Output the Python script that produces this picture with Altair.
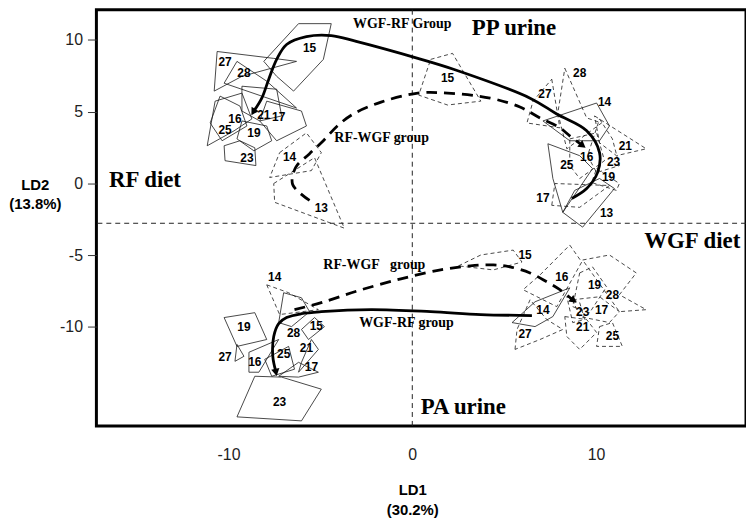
import altair as alt
import pandas as pd

X_DOMAIN = [-17.19, 18.16]
Y_DOMAIN = [-16.89, 12.11]
X_TICKS = [-10, 0, 10]
Y_TICKS = [-10, -5, 0, 5, 10]
ZERO_X = 0
DIET_LINE_Y = -2.77

# ---- PP urine, RF diet cluster ----
PP_RF_SOLID = {
    "15": [(-8.08, 8.51), (-6.19, 11.14), (-4.41, 11.14), (-4.84, 8.65), (-6.46, 6.44), (-7.38, 7.47)],
    "27": [(-10.62, 9.20), (-7.54, 8.72), (-6.30, 8.51), (-9.27, 7.47), (-10.78, 6.44)],
    "28": [(-9.54, 8.51), (-7.92, 7.13), (-6.30, 5.26), (-8.19, 6.09), (-10.24, 6.99)],
    "16": [(-10.73, 5.74), (-9.27, 6.30), (-8.73, 4.50), (-9.70, 3.67), (-11.16, 2.63)],
    "25": [(-10.46, 6.09), (-9.38, 5.40), (-9.00, 4.01), (-10.35, 2.98), (-11.00, 4.22)],
    "21": [(-9.27, 6.78), (-7.38, 6.57), (-7.11, 4.71), (-8.30, 4.36), (-9.27, 5.05)],
    "17": [(-7.92, 5.74), (-6.03, 5.05), (-5.76, 4.01), (-7.38, 2.98), (-8.30, 4.36)],
    "19": [(-9.27, 4.36), (-7.92, 4.01), (-7.65, 2.98), (-8.62, 2.28), (-9.54, 3.11)],
    "23": [(-10.24, 2.63), (-9.38, 2.98), (-8.57, 2.49), (-8.51, 1.25), (-10.19, 1.59)],
}
PP_RF_DASHED = {
    "14": [(-7.22, 2.15), (-5.76, 3.53), (-4.95, 2.15), (-5.49, 0.90), (-7.76, 0.42)],
    "13": [(-7.54, 0.00), (-5.32, 1.80), (-3.70, -3.11), (-7.49, -1.31)],
}
PP_RF_LABELS = {
    "15": (-5.59, 9.41), "27": (-10.19, 8.44), "28": (-9.16, 7.68), "16": (-9.65, 4.50),
    "21": (-8.08, 4.78), "17": (-7.27, 4.64), "25": (-10.19, 3.74), "19": (-8.62, 3.53),
    "23": (-9.00, 1.80), "14": (-6.68, 1.87), "13": (-4.95, -1.73),
}

# ---- PP urine, WGF diet cluster ----
PP_WGF_SOLID = {
    "14": [(7.11, 4.36), (10.03, 5.61), (10.73, 4.01), (10.19, 2.98), (8.57, 2.98)],
    "25": [(7.38, 2.77), (9.11, 1.94), (9.81, 1.04), (8.19, -2.01), (7.65, 0.35)],
    "13": [(8.19, -2.01), (9.27, -3.04), (11.00, -0.35), (10.19, 0.35), (8.84, -0.48)],
}
PP_WGF_DASHED = {
    "28": [(8.30, 8.03), (9.49, 4.57), (10.30, 4.22), (8.41, 2.42), (7.92, 4.91)],
    "27": [(7.59, 7.27), (8.03, 3.88), (6.24, 4.22), (6.57, 5.74)],
    "21": [(9.92, 4.71), (12.73, 2.42), (11.11, 1.94), (10.19, 2.84)],
    "23": [(10.19, 4.50), (10.89, 3.11), (11.27, 1.25), (10.03, 0.76), (9.54, 1.94)],
    "19": [(10.03, 1.04), (11.27, 0.00), (11.11, -0.48), (9.76, 0.07)],
    "16": [(8.57, 3.11), (10.03, 3.53), (10.46, 1.59), (9.11, 0.35), (8.57, 1.25)],
    "17": [(7.59, -1.52), (7.76, 0.00), (10.73, -0.14), (9.11, -1.66)],
    "15": [(1.00, 8.65), (2.19, 9.07), (3.73, 5.74), (1.92, 5.47), (0.35, 6.16)],
}
PP_WGF_LABELS = {
    "28": (9.11, 7.68), "27": (7.22, 6.23), "14": (10.46, 5.67), "21": (11.59, 2.63),
    "16": (9.49, 1.87), "23": (10.95, 1.52), "25": (8.41, 1.31), "19": (10.68, 0.48),
    "17": (7.11, -1.04), "13": (10.57, -2.08), "15": (1.92, 7.34),
}

# ---- PA urine, RF diet cluster ----
PA_RF_SOLID = {
    "19": [(-10.24, -9.34), (-8.57, -9.00), (-7.92, -10.87), (-9.54, -11.35)],
    "27": [(-9.54, -11.21), (-9.16, -12.04), (-9.65, -12.39)],
    "28": [(-7.00, -7.61), (-6.03, -7.96), (-5.59, -8.93), (-6.57, -9.97), (-7.27, -9.69)],
    "15": [(-5.65, -10.87), (-4.78, -9.97), (-5.32, -9.34), (-6.03, -10.17)],
    "16": [(-8.89, -11.76), (-7.27, -10.87), (-8.35, -13.15), (-8.89, -13.15)],
    "25": [(-8.03, -12.25), (-6.73, -11.35), (-6.41, -12.94), (-7.65, -13.43)],
    "21": [(-6.03, -12.46), (-5.49, -10.87), (-5.11, -11.56), (-6.19, -13.15)],
    "17": [(-7.27, -13.43), (-6.19, -12.46), (-5.11, -13.15), (-6.19, -13.49)],
    "23": [(-8.57, -13.43), (-7.11, -13.49), (-4.95, -14.33), (-6.03, -16.54), (-9.54, -16.26)],
}
PA_RF_DASHED = {
    "14": [(-7.92, -7.06), (-6.73, -7.61), (-5.11, -8.79), (-7.22, -9.13)],
}
PA_RF_LABELS = {
    "14": (-7.49, -6.51), "19": (-9.16, -10.03), "28": (-6.46, -10.45), "15": (-5.22, -9.90),
    "27": (-10.19, -12.11), "16": (-8.57, -12.46), "25": (-7.00, -11.90), "21": (-5.76, -11.49),
    "17": (-5.49, -12.80), "23": (-7.22, -15.22),
}

# ---- PA urine, WGF diet cluster ----
PA_WGF_SOLID = {
    "14": [(5.43, -9.69), (6.68, -8.24), (8.57, -7.27), (7.65, -9.27), (6.68, -9.97)],
}
PA_WGF_DASHED = {
    "15": [(2.51, -5.74), (3.73, -4.98), (5.49, -4.64), (5.97, -5.47), (4.41, -6.02)],
    "16": [(8.57, -4.29), (9.22, -5.47), (7.86, -8.58), (6.03, -7.40), (6.95, -6.37)],
    "19": [(9.11, -6.23), (9.81, -5.81), (10.57, -7.20), (9.65, -9.00), (8.73, -8.58)],
    "28": [(9.27, -5.33), (10.73, -4.98), (12.19, -6.23), (11.27, -7.75), (12.73, -8.79), (11.27, -8.93)],
    "17": [(8.73, -8.10), (10.19, -7.89), (11.27, -8.93), (10.73, -9.69), (9.11, -9.27)],
    "23": [(8.41, -7.89), (9.11, -8.30), (9.38, -9.48), (8.73, -9.69)],
    "21": [(8.30, -9.27), (9.49, -9.48), (10.03, -10.38), (9.11, -11.56), (8.41, -10.66)],
    "27": [(5.59, -11.56), (5.70, -10.17), (6.41, -8.10), (7.32, -9.48), (8.19, -10.17), (6.95, -10.87)],
    "25": [(10.19, -9.97), (10.89, -9.69), (11.43, -11.35), (10.03, -11.35)],
}
PA_WGF_LABELS = {
    "15": (6.14, -4.98), "16": (8.14, -6.51), "19": (9.92, -7.06), "28": (10.89, -7.75),
    "14": (7.11, -8.79), "23": (9.27, -8.93), "17": (10.30, -8.79), "21": (9.27, -9.97),
    "27": (6.14, -10.52), "25": (10.89, -10.66),
}

# ---- group trajectories ----
PP_WGF_RF_X = [8.68, 9.49, 10.08, 10.19, 9.49, 7.86, 6.41, 2.24, 0.30, -3.05, -4.41, -5.76, -6.84, -7.38, -7.81, -8.19, -8.62]
PP_WGF_RF_Y = [-1.04, -0.35, 0.76, 2.15, 3.67, 4.84, 5.95, 7.96, 8.72, 9.90, 10.31, 10.24, 9.69, 8.65, 7.27, 5.95, 5.05]
PP_RF_WGF_X = [-5.59, -6.51, -6.35, -5.59, -4.84, -4.08, -3.22, -1.70, 0.30, 1.92, 4.24, 5.86, 6.95, 8.03, 8.57, 9.22]
PP_RF_WGF_Y = [-1.18, -0.07, 1.11, 2.08, 2.98, 4.01, 4.84, 5.67, 6.30, 6.30, 5.95, 5.33, 4.57, 3.88, 3.32, 2.70]
PA_WGF_RF_X = [6.51, 3.73, 1.00, -2.24, -4.95, -6.03, -6.84, -7.27, -7.54, -7.59, -7.43]
PA_WGF_RF_Y = [-9.20, -9.13, -8.93, -8.79, -8.93, -9.07, -9.34, -9.76, -10.66, -12.04, -13.08]
PA_RF_WGF_X = [-6.41, -4.95, -2.95, -0.62, 1.54, 3.16, 4.41, 5.32, 6.41, 7.32, 8.03, 8.73]
PA_RF_WGF_Y = [-8.79, -8.30, -7.47, -6.64, -6.02, -5.74, -5.67, -5.81, -6.23, -6.85, -7.40, -8.10]
ARROW_ANGLE = {"PP_WGF_RF": 211, "PP_RF_WGF": 127, "PA_WGF_RF": 169, "PA_RF_WGF": 128}

# ---- annotation texts ----
BIG_TEXT = ["PP urine", "RF diet", "WGF diet", "PA urine"]
BIG_X = [3.24, -16.51, 12.62, 0.46]
BIG_Y = [10.38, -0.21, -4.50, -16.06]
GROUP_TEXT = ["WGF-RF Group", "RF-WGF group", "RF-WGF\u00a0\u00a0 group", "WGF-RF group"]
GROUP_X = [-3.22, -4.24, -4.84, -2.89]
GROUP_Y = [10.87, 2.91, -5.95, -9.97]


def poly_frame(polys, tag):
    rows = []
    for lab, verts in polys.items():
        closed = verts + [verts[0]]
        for i, (x, y) in enumerate(closed):
            rows.append({"pid": f"{tag}-{lab}", "x": x, "y": y, "i": i})
    return rows


solid_rows = (poly_frame(PP_RF_SOLID, "pprf") + poly_frame(PP_WGF_SOLID, "ppwgf")
              + poly_frame(PA_RF_SOLID, "parf") + poly_frame(PA_WGF_SOLID, "pawgf"))
dashed_rows = (poly_frame(PP_RF_DASHED, "pprf") + poly_frame(PP_WGF_DASHED, "ppwgf")
               + poly_frame(PA_RF_DASHED, "parf") + poly_frame(PA_WGF_DASHED, "pawgf"))
solid_df = pd.DataFrame(solid_rows)
dashed_df = pd.DataFrame(dashed_rows)

label_rows = []
for d in (PP_RF_LABELS, PP_WGF_LABELS, PA_RF_LABELS, PA_WGF_LABELS):
    for lab, (x, y) in d.items():
        label_rows.append({"lab": lab, "x": x, "y": y})
label_df = pd.DataFrame(label_rows)


def traj_frame(xs, ys, name):
    return pd.DataFrame({"x": xs, "y": ys, "i": list(range(len(xs))), "g": name})


solid_traj = pd.concat([traj_frame(PP_WGF_RF_X, PP_WGF_RF_Y, "PP_WGF_RF"),
                        traj_frame(PA_WGF_RF_X, PA_WGF_RF_Y, "PA_WGF_RF")])
dashed_traj = pd.concat([traj_frame(PP_RF_WGF_X, PP_RF_WGF_Y, "PP_RF_WGF"),
                         traj_frame(PA_RF_WGF_X, PA_RF_WGF_Y, "PA_RF_WGF")])
arrow_df = pd.DataFrame([
    {"x": PP_WGF_RF_X[-1], "y": PP_WGF_RF_Y[-1], "angle": ARROW_ANGLE["PP_WGF_RF"]},
    {"x": PP_RF_WGF_X[-1], "y": PP_RF_WGF_Y[-1], "angle": ARROW_ANGLE["PP_RF_WGF"]},
    {"x": PA_WGF_RF_X[-1], "y": PA_WGF_RF_Y[-1], "angle": ARROW_ANGLE["PA_WGF_RF"]},
    {"x": PA_RF_WGF_X[-1], "y": PA_RF_WGF_Y[-1], "angle": ARROW_ANGLE["PA_RF_WGF"]},
])
big_df = pd.DataFrame({"t": BIG_TEXT, "x": BIG_X, "y": BIG_Y})
group_df = pd.DataFrame({"t": GROUP_TEXT, "x": GROUP_X, "y": GROUP_Y})

xscale = alt.Scale(domain=X_DOMAIN, nice=False, zero=False)
yscale = alt.Scale(domain=Y_DOMAIN, nice=False, zero=False)
x_axis = alt.Axis(values=X_TICKS, ticks=False, labelPadding=21, labelExpr="'' + datum.value",
                  title=["LD1", "(30.2%)"], titleX=318, titleY=57, titleBaseline="top",
                  titleAlign="center", titleLineHeight=20)
y_axis = alt.Axis(values=Y_TICKS, tickSize=9, labelPadding=5,
                  labelExpr="'' + datum.value",
                  title=["LD2", "(13.8%)"], titleAngle=0, titleAlign="center",
                  titleBaseline="top", titleX=-62, titleY=169, titleLineHeight=19)


def X(**kw):
    return alt.X("x:Q", scale=xscale, **kw)


def Y(**kw):
    return alt.Y("y:Q", scale=yscale, **kw)


vline = alt.Chart(pd.DataFrame({"x": [ZERO_X]})).mark_rule(
    color="#222", strokeWidth=1, strokeDash=[5, 4]).encode(x=X(axis=x_axis))
hline = alt.Chart(pd.DataFrame({"y": [DIET_LINE_Y]})).mark_rule(
    color="#222", strokeWidth=1, strokeDash=[5, 4]).encode(y=Y(axis=y_axis))

solid_polys = alt.Chart(solid_df).mark_line(color="#1a1a1a", strokeWidth=0.8).encode(
    x=X(axis=x_axis), y=Y(axis=y_axis), detail="pid:N", order="i:Q")
dashed_polys = alt.Chart(dashed_df).mark_line(color="#1a1a1a", strokeWidth=0.8, strokeDash=[4, 3]).encode(
    x=X(axis=x_axis), y=Y(axis=y_axis), detail="pid:N", order="i:Q")

solid_tr = alt.Chart(solid_traj).mark_line(color="black", strokeWidth=2.8, interpolate="catmull-rom").encode(
    x=X(axis=x_axis), y=Y(axis=y_axis), detail="g:N", order="i:Q")
dashed_tr = alt.Chart(dashed_traj).mark_line(color="black", strokeWidth=2.8, strokeDash=[11, 7],
                                             interpolate="catmull-rom").encode(
    x=X(axis=x_axis), y=Y(axis=y_axis), detail="g:N", order="i:Q")
arrows = alt.Chart(arrow_df).mark_point(shape="triangle", filled=True, color="black", size=70, opacity=1).encode(
    x=X(axis=x_axis), y=Y(axis=y_axis), angle=alt.Angle("angle:Q", scale=None))

labels = alt.Chart(label_df).mark_text(font="Liberation Sans", fontWeight="bold", fontSize=12,
                                       color="black", align="center", baseline="middle").encode(
    x=X(axis=x_axis), y=Y(axis=y_axis), text="lab:N")

big = alt.Chart(big_df).mark_text(font="Liberation Serif", fontWeight="bold", fontSize=23,
                                  color="black", align="left", baseline="alphabetic").encode(
    x=X(axis=x_axis), y=Y(axis=y_axis), text="t:N")
groups = alt.Chart(group_df).mark_text(font="Liberation Serif", fontWeight="bold", fontSize=14,
                                       color="black", align="left", baseline="alphabetic").encode(
    x=X(axis=x_axis), y=Y(axis=y_axis), text="t:N")

chart = alt.layer(vline, hline, solid_polys, dashed_polys, solid_tr, dashed_tr, arrows,
                  labels, big, groups).properties(
    width=654, height=419,
    autosize=alt.AutoSizeParams(type="none"),
    padding={"left": 89, "top": 0, "right": 0, "bottom": 94},
    background="white",
).configure_view(stroke="black", strokeWidth=3).configure_axis(
    grid=False, domain=False, labelFont="Liberation Sans", labelFontSize=16, labelColor="#222",
    tickColor="#333", tickWidth=1, titleFont="Liberation Sans", titleFontSize=15,
    titleFontWeight="bold", titleColor="black")

chart.save("out.html", embed_options={"renderer": "svg", "actions": False})
